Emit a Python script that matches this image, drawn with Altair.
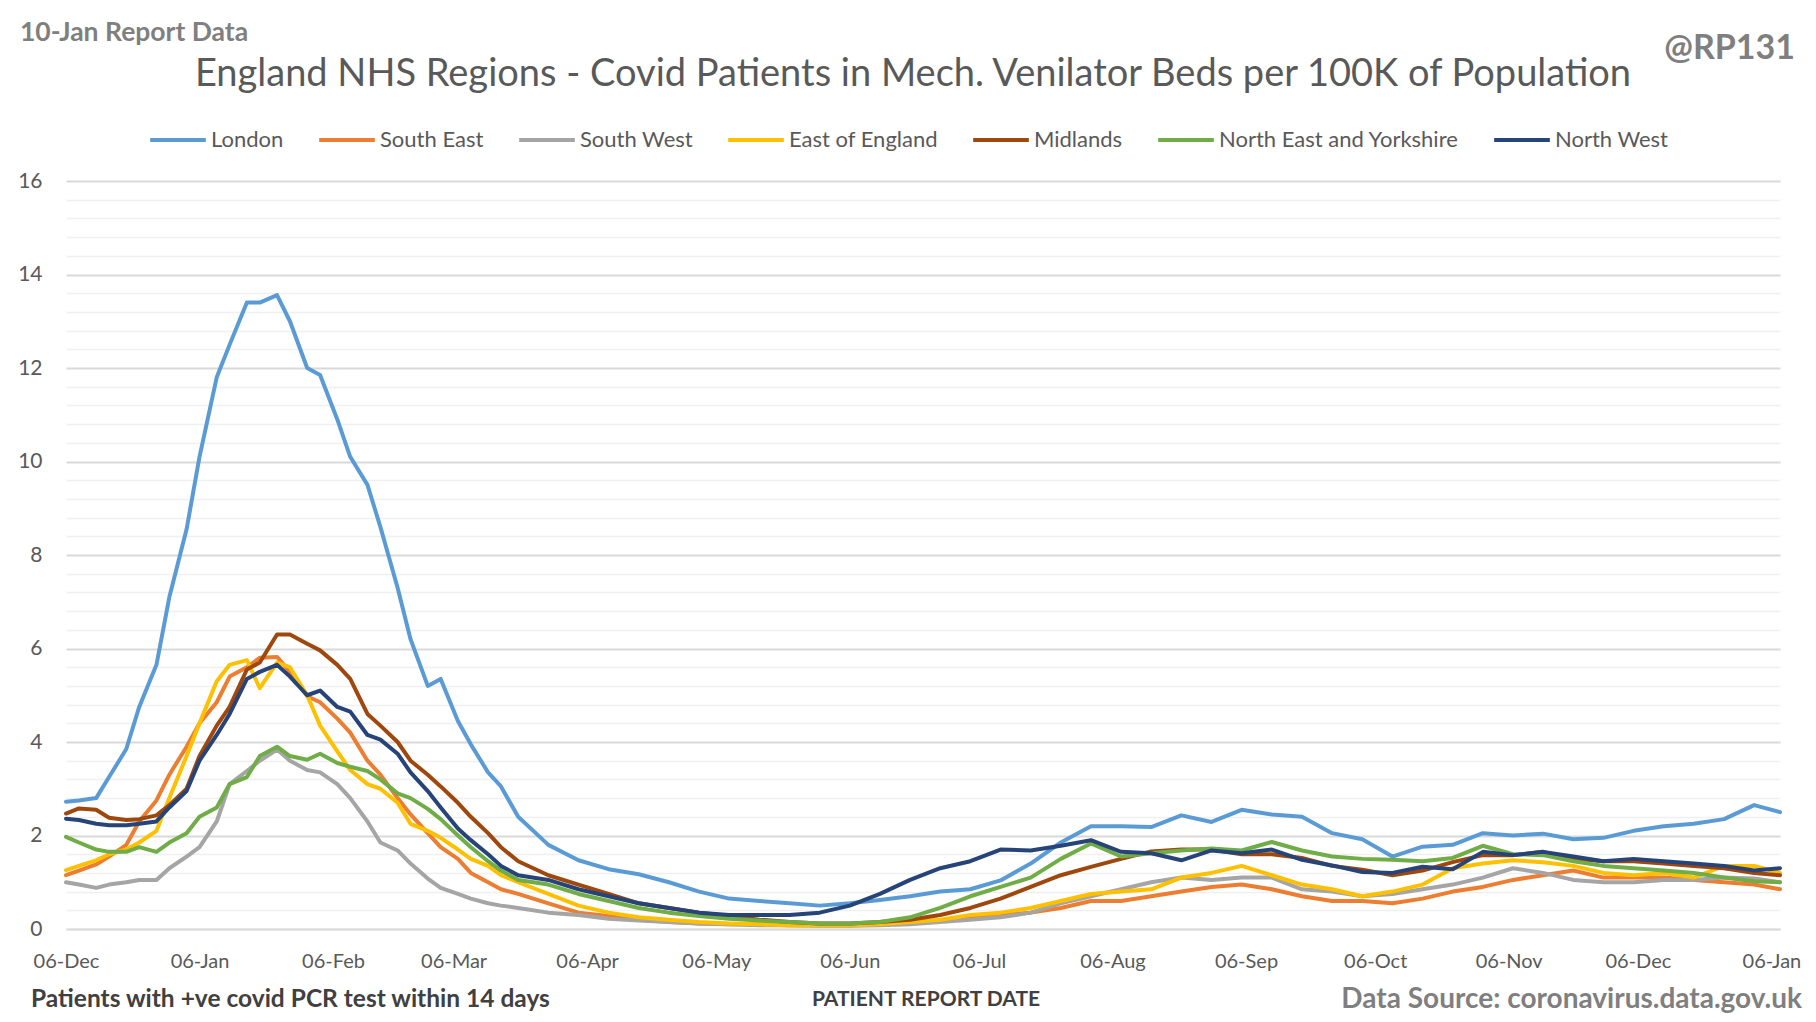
import altair as alt
import pandas as pd
from datetime import date, timedelta

# ---- data (twice-weekly in the winter wave, weekly after) ----
start = date(2020, 12, 6)
day_offsets = [0, 3, 7, 10, 14, 17, 21, 24, 28, 31, 35, 38, 42, 45, 49, 52, 56, 59, 63, 66,
               70, 73, 77, 80, 84, 87, 91, 94, 98, 101, 105] + list(range(112, 393, 7)) + [398]
dates = [(start + timedelta(days=d)).isoformat() for d in day_offsets]

regions = ["London", "South East", "South West", "East of England",
           "Midlands", "North East and Yorkshire", "North West"]
colors = ["#5B9BD5", "#ED7D31", "#A5A5A5", "#FFC000",
          "#9E480E", "#70AD47", "#264478"]

london = [2.72, 2.75, 2.8, 3.25, 3.85, 4.75, 5.65, 7.1, 8.55, 10.1, 11.8, 12.5, 13.4, 13.4,
          13.56, 13.0, 12.0, 11.85, 10.9, 10.1, 9.5, 8.6, 7.3, 6.2, 5.2, 5.35, 4.45, 3.95,
          3.35, 3.05, 2.4,
          1.8, 1.47, 1.28, 1.17, 1.0, 0.8, 0.65, 0.6, 0.55, 0.5, 0.55, 0.62, 0.7, 0.8, 0.85,
          1.04, 1.4, 1.85, 2.2, 2.2, 2.18, 2.43, 2.29, 2.55, 2.45, 2.4, 2.05, 1.92, 1.55,
          1.76, 1.8, 2.05, 2.0, 2.04, 1.92, 1.95, 2.1, 2.2, 2.25, 2.35, 2.65, 2.5]
south_east = [1.15, 1.25, 1.38, 1.55, 1.8, 2.3, 2.75, 3.3, 3.9, 4.4, 4.85, 5.4, 5.6, 5.8,
              5.82, 5.5, 4.98, 4.85, 4.5, 4.2, 3.6, 3.3, 2.8, 2.45, 2.05, 1.75, 1.5, 1.2,
              1.0, 0.85, 0.75,
              0.55, 0.35, 0.28, 0.2, 0.15, 0.12, 0.1, 0.1, 0.08, 0.08, 0.08, 0.1, 0.12, 0.18,
              0.25, 0.3, 0.35, 0.45, 0.6, 0.6, 0.7, 0.8, 0.9, 0.95, 0.85, 0.7, 0.6, 0.6, 0.55,
              0.65, 0.8, 0.9, 1.05, 1.15, 1.25, 1.1, 1.1, 1.1, 1.05, 1.0, 0.95, 0.85]
south_west = [1.0, 0.95, 0.88, 0.95, 1.0, 1.05, 1.05, 1.3, 1.55, 1.75, 2.3, 3.1, 3.38, 3.6,
              3.84, 3.6, 3.4, 3.35, 3.1, 2.8, 2.3, 1.85, 1.68, 1.4, 1.08, 0.88, 0.75, 0.65,
              0.55, 0.5, 0.45,
              0.35, 0.3, 0.22, 0.18, 0.15, 0.12, 0.1, 0.08, 0.08, 0.07, 0.07, 0.08, 0.1, 0.15,
              0.2, 0.25, 0.35, 0.55, 0.7, 0.85, 1.0, 1.1, 1.05, 1.1, 1.1, 0.85, 0.8, 0.7, 0.75,
              0.85, 0.95, 1.1, 1.3, 1.2, 1.05, 1.0, 1.0, 1.05, 1.05, 1.1, 1.08, 1.0]
east_of_england = [1.26, 1.35, 1.47, 1.6, 1.7, 1.85, 2.1, 2.8, 3.7, 4.4, 5.3, 5.65, 5.75,
                   5.15, 5.7, 5.6, 5.0, 4.35, 3.8, 3.4, 3.1, 3.0, 2.7, 2.25, 2.1, 1.95, 1.7,
                   1.5, 1.35, 1.15, 1.0,
                   0.75, 0.5, 0.35, 0.25, 0.2, 0.15, 0.12, 0.1, 0.08, 0.08, 0.08, 0.1, 0.15,
                   0.2, 0.3, 0.35, 0.45, 0.6, 0.75, 0.8, 0.85, 1.1, 1.2, 1.35, 1.15, 0.95,
                   0.85, 0.7, 0.8, 0.95, 1.3, 1.4, 1.47, 1.43, 1.35, 1.2, 1.15, 1.2, 1.1, 1.35,
                   1.35, 1.2]
midlands = [2.47, 2.58, 2.55, 2.38, 2.33, 2.35, 2.43, 2.65, 3.0, 3.7, 4.35, 4.75, 5.55, 5.7,
            6.3, 6.3, 6.1, 5.96, 5.65, 5.35, 4.6, 4.35, 4.0, 3.6, 3.3, 3.05, 2.7, 2.4, 2.05,
            1.75, 1.45,
            1.15, 0.95, 0.75, 0.55, 0.45, 0.35, 0.28, 0.2, 0.15, 0.12, 0.12, 0.15, 0.2, 0.3,
            0.45, 0.65, 0.9, 1.15, 1.33, 1.5, 1.66, 1.7, 1.7, 1.6, 1.6, 1.52, 1.35, 1.27, 1.15,
            1.25, 1.43, 1.58, 1.58, 1.65, 1.5, 1.45, 1.45, 1.4, 1.35, 1.3, 1.2, 1.15]
ne_yorkshire = [1.97, 1.85, 1.7, 1.65, 1.65, 1.75, 1.65, 1.85, 2.05, 2.4, 2.6, 3.1, 3.25, 3.7,
                3.9, 3.7, 3.62, 3.75, 3.55, 3.47, 3.38, 3.2, 2.9, 2.8, 2.57, 2.35, 2.0, 1.75,
                1.45, 1.25, 1.05,
                0.95, 0.75, 0.6, 0.45, 0.35, 0.28, 0.22, 0.18, 0.15, 0.12, 0.12, 0.15, 0.25,
                0.45, 0.7, 0.9, 1.1, 1.5, 1.83, 1.55, 1.62, 1.68, 1.72, 1.68, 1.86, 1.68,
                1.55, 1.5, 1.48, 1.45, 1.52, 1.78, 1.6, 1.58, 1.45, 1.35, 1.3, 1.25, 1.2, 1.1,
                1.02, 1.0]
north_west = [2.36, 2.33, 2.25, 2.22, 2.22, 2.25, 2.3, 2.6, 2.95, 3.6, 4.15, 4.6, 5.35, 5.5,
              5.65, 5.4, 5.0, 5.1, 4.75, 4.65, 4.15, 4.05, 3.75, 3.35, 2.95, 2.6, 2.15, 1.9,
              1.6, 1.35, 1.15,
              1.05, 0.85, 0.7, 0.55, 0.45, 0.35, 0.3, 0.3, 0.3, 0.35, 0.5, 0.75, 1.05, 1.3,
              1.45, 1.7, 1.68, 1.78, 1.9, 1.65, 1.62, 1.47, 1.68, 1.62, 1.7, 1.48, 1.36, 1.22,
              1.2, 1.33, 1.28, 1.65, 1.58, 1.65, 1.55, 1.45, 1.5, 1.45, 1.4, 1.35, 1.25, 1.3]

series = [london, south_east, south_west, east_of_england, midlands, ne_yorkshire, north_west]

rows = []
for name, vals in zip(regions, series):
    for d, v in zip(dates, vals):
        rows.append({"date": d, "region": name, "value": v})
df = pd.DataFrame(rows)

y_ticks = [round(i * 0.4, 1) for i in range(41)]
x_ticks = [alt.DateTime(year=2020, month=12, date=6, utc=True)] + \
          [alt.DateTime(year=2021, month=m, date=6, utc=True) for m in range(1, 13)] + \
          [alt.DateTime(year=2022, month=1, date=6, utc=True)]

FONT = "Lato"
major = "abs(datum.value/2 - round(datum.value/2)) < 0.01"

lines = alt.Chart(df).mark_line(strokeWidth=4, strokeJoin="round", strokeCap="round").encode(
    x=alt.X("date:T",
            scale=alt.Scale(type="utc",
                            domain=[alt.DateTime(year=2020, month=12, date=6, utc=True),
                                    alt.DateTime(year=2022, month=1, date=8, utc=True)]),
            axis=alt.Axis(values=x_ticks, format="%d-%b", title=None, grid=False,
                          ticks=False, domain=True, domainColor="#d9d9d9", domainWidth=1.5,
                          labelFontSize=20, labelColor="#595959", labelFont=FONT,
                          labelPadding=22, labelFlush=False, labelOverlap=False)),
    y=alt.Y("value:Q", scale=alt.Scale(domain=[0, 16], nice=False),
            axis=alt.Axis(values=y_ticks, title=None, domain=False, ticks=False,
                          labelExpr=f"{major} ? format(datum.value, 'd') : ''",
                          gridColor={"condition": {"test": major, "value": "#d9d9d9"},
                                     "value": "#f0f0f0"},
                          gridWidth={"condition": {"test": major, "value": 1.8},
                                     "value": 1.5},
                          labelFontSize=21, labelColor="#595959", labelFont=FONT,
                          labelPadding=24)),
    color=alt.Color("region:N", sort=regions,
                    scale=alt.Scale(domain=regions, range=colors),
                    legend=alt.Legend(orient="none", legendX=82, legendY=-71,
                                      direction="horizontal", columns=7, title=None,
                                      symbolType="stroke", symbolSize=3100,
                                      symbolStrokeWidth=4, labelFontSize=22,
                                      labelFont=FONT, labelColor="#595959", labelLimit=500,
                                      labelOffset=3, columnPadding=27, padding=0)),
)

def label(text, x, y, size, color, bold=False, align="left"):
    return alt.Chart(pd.DataFrame({"t": [text]})).mark_text(
        align=align, baseline="middle", fontSize=size, font=FONT,
        fontWeight="bold" if bold else "normal", color=color
    ).encode(x=alt.value(x), y=alt.value(y), text="t:N")

texts = [
    label("10-Jan Report Data", -46, -148, 26.5, "#7f7f7f", bold=True),
    label("England NHS Regions - Covid Patients in Mech. Venilator Beds per 100K of Population",
          847, -106, 38, "#595959", align="center"),
    label("@RP131", 1729, -132, 34, "#7f7f7f", bold=True, align="right"),
    label("Patients with +ve covid PCR test within 14 days", -35, 819, 24.5, "#404040", bold=True),
    label("PATIENT REPORT DATE", 860, 819, 21, "#404040", bold=True, align="center"),
    label("Data Source: coronavirus.data.gov.uk", 1736, 819, 28, "#7f7f7f", bold=True,
          align="right"),
]

chart = alt.layer(lines, *texts).properties(
    width=1714, height=748,
    autosize=alt.AutoSizeParams(type="none"),
    padding={"left": 58, "top": 173, "right": 28, "bottom": 85},
    background="white",
).configure_view(stroke=None)

chart.save("out.html", embed_options={"renderer": "svg", "actions": False})
